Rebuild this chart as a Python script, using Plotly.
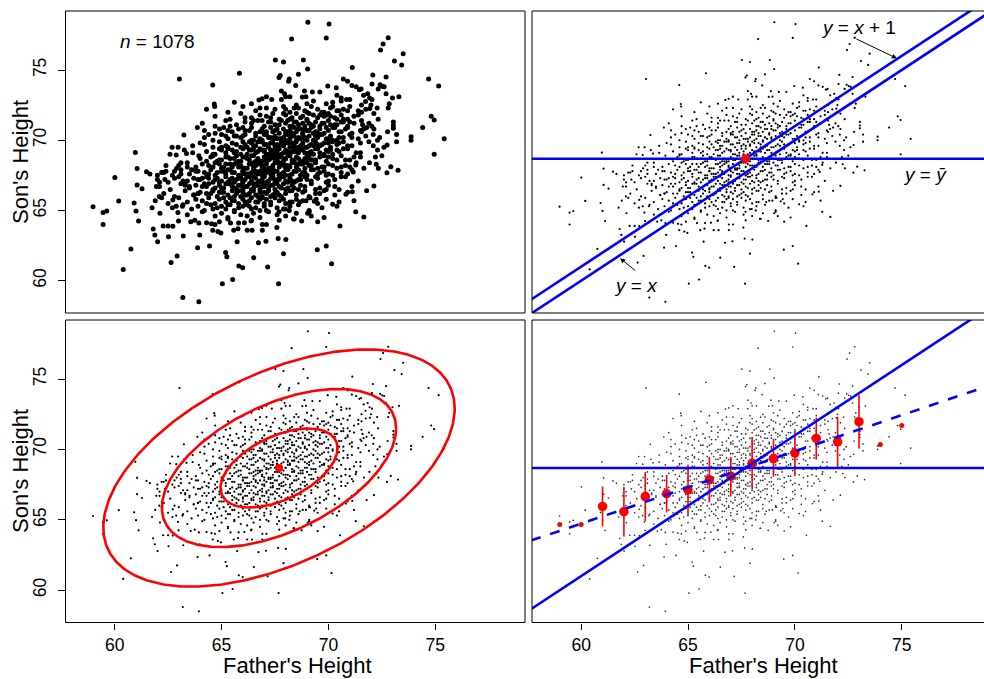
import numpy as np
import plotly.graph_objects as go

# ------------------------------------------------------------------ data
# sparse / outer points (father, son)
father_outer = [
    69.04, 70.03, 68.28, 69.90, 67.52, 67.90, 68.83, 69.03, 65.84, 71.12,
    64.59, 67.69, 67.75, 68.60, 68.17, 68.14, 67.80, 67.95, 68.47, 68.88,
    69.97, 70.37, 70.70, 70.90, 71.10, 71.30, 71.45, 64.66, 64.68, 67.10,
    67.35, 68.00, 68.20, 68.78, 68.95, 69.25, 69.60, 70.40, 70.60, 70.85,
    66.75, 66.90, 72.80, 72.56, 72.44, 73.50, 73.09, 73.43, 72.08, 72.70,
    74.69, 75.16, 72.04, 72.33, 72.42, 72.61, 72.52, 71.53, 71.65, 71.84,
    71.93, 71.74, 72.04, 71.99, 71.94, 72.28, 72.13, 72.33, 71.90, 72.03,
    71.79, 71.65, 72.13, 72.70, 73.00, 72.85, 72.80, 73.30, 73.04, 73.04,
    73.04, 73.19, 73.19, 72.77, 72.75, 73.87, 73.87, 74.41, 74.81, 74.95,
    75.42, 74.95, 71.55, 71.60, 71.55, 71.75, 71.90, 72.10, 72.30, 72.50,
    72.20, 72.60, 72.10, 72.30, 72.40, 71.55, 71.55, 71.75, 73.26, 72.92,
    72.74, 72.34, 72.24, 71.92, 71.66, 71.79, 72.13, 71.66, 63.03, 63.87,
    63.24, 60.97, 62.69, 62.97, 63.26, 63.65, 62.59, 62.88, 63.36, 63.94,
    63.65, 61.05, 60.01, 61.49, 61.65, 61.05, 61.28, 60.19, 58.99, 59.46,
    59.63, 59.46, 60.91, 61.00, 61.12, 61.75, 61.80, 61.88, 62.01, 62.12,
    60.76, 60.40, 62.27, 62.50, 62.72, 62.52, 63.21, 62.64, 62.92, 63.19,
    63.94, 63.56, 63.75, 63.94, 63.88, 62.99, 62.09, 62.20, 62.72, 62.88,
    63.17, 62.96, 61.95, 62.10, 62.00, 62.30, 62.35, 62.80, 63.00, 63.10,
    63.40, 63.50, 63.30, 63.80, 63.90, 63.70, 63.90, 65.04, 65.52, 67.67,
    65.81, 65.99, 67.16, 66.51, 65.19, 65.25, 64.44, 67.90, 70.15, 69.48,
    69.90, 65.73, 66.73, 67.08, 67.65, 68.01, 67.59, 66.91, 66.91, 66.20,
    66.43, 65.57, 65.77, 64.59, 64.83, 64.97, 63.98, 64.30, 64.53, 64.69,
    65.42, 66.07, 66.38, 68.37, 68.75, 69.03, 69.20, 70.54, 71.28, 70.20,
    70.82, 71.12, 71.16, 71.28, 68.66, 68.95, 69.14, 69.43, 69.34, 67.69,
    67.98, 68.17,
]
son_outer = [
    78.40, 78.27, 77.20, 77.28, 75.71, 75.57, 75.71, 75.07, 74.77, 75.17,
    73.93, 74.47, 74.60, 74.69, 74.36, 74.20, 73.50, 73.30, 73.90, 73.50,
    73.86, 73.74, 74.36, 74.20, 73.90, 73.80, 73.60, 72.58, 72.40, 73.10,
    72.90, 73.10, 73.10, 73.08, 73.10, 73.44, 73.44, 73.20, 73.00, 72.90,
    72.87, 72.95, 77.30, 76.85, 76.42, 76.16, 75.64, 75.36, 74.65, 74.50,
    74.36, 73.86, 74.00, 73.65, 73.95, 73.80, 73.85, 73.65, 73.20, 73.30,
    73.00, 72.75, 72.90, 72.50, 72.25, 72.30, 71.90, 71.50, 71.20, 71.00,
    70.90, 70.80, 70.80, 73.30, 73.00, 72.60, 72.30, 73.10, 71.30, 71.05,
    70.85, 70.40, 69.90, 70.60, 69.66, 70.25, 70.00, 70.90, 71.70, 71.44,
    70.10, 69.00, 71.40, 71.10, 70.60, 70.30, 69.90, 69.60, 69.30, 68.90,
    68.80, 69.50, 70.40, 70.00, 70.20, 72.50, 72.00, 72.20, 67.86, 68.12,
    67.69, 68.00, 68.29, 68.40, 68.00, 66.40, 66.75, 64.54, 74.36, 70.90,
    70.37, 69.12, 69.50, 69.50, 69.30, 69.60, 69.00, 68.95, 69.05, 68.90,
    69.10, 67.98, 67.34, 67.76, 67.60, 66.82, 66.55, 65.68, 65.27, 64.85,
    64.96, 64.00, 65.53, 64.97, 64.25, 65.20, 63.68, 63.26, 62.78, 64.80,
    62.26, 60.80, 63.90, 63.90, 63.88, 63.12, 63.19, 61.29, 61.76, 58.80,
    58.50, 64.20, 64.30, 64.10, 62.35, 64.25, 66.00, 65.90, 65.75, 65.30,
    65.30, 64.85, 66.70, 67.00, 67.50, 67.70, 67.20, 67.80, 68.20, 67.60,
    68.10, 66.70, 66.90, 67.80, 67.20, 66.10, 66.20, 59.79, 60.08, 59.79,
    61.05, 60.93, 60.98, 61.64, 62.00, 61.70, 62.47, 61.92, 61.21, 62.21,
    62.47, 62.78, 62.70, 62.80, 63.00, 62.93, 63.78, 63.60, 64.00, 63.60,
    63.60, 63.60, 63.70, 63.60, 63.50, 63.40, 63.26, 64.13, 64.05, 64.00,
    64.10, 64.13, 64.25, 64.40, 64.25, 64.80, 64.60, 63.90, 64.90, 65.44,
    66.15, 66.34, 67.74, 68.24, 65.60, 65.70, 65.90, 65.80, 65.65, 64.90,
    65.10, 65.00,
]

# dense core, in bands of son's height (estimated)
father_640 = [64.9, 65.3, 65.8, 66.4, 67.1, 67.7, 68.4, 69.5]
son_640 = [64.2, 64.4, 64.1, 64.3, 64.0, 64.3, 64.4, 64.2]

father_645 = [63.4, 64.1, 64.7, 65.0, 65.3, 65.6, 65.9, 66.2, 66.5, 66.8,
              67.2, 67.6, 68.0, 68.5, 69.1, 69.8]
son_645 = [64.7, 64.9, 64.6, 64.8, 64.5, 64.9, 64.7, 64.6, 64.8, 64.5,
           64.9, 64.7, 64.6, 64.8, 64.9, 64.5]

father_650 = [62.7, 63.2, 63.6, 63.9, 64.2, 64.5, 64.8, 65.0, 65.2, 65.4,
              65.6, 65.8, 66.0, 66.2, 66.4, 66.6, 66.8, 67.0, 67.3, 67.6,
              67.9, 68.2, 68.6, 69.1, 69.7, 70.4, 64.6, 65.3, 66.3, 67.1]
son_650 = [65.2, 65.4, 65.1, 65.3, 65.0, 65.4, 65.2, 65.3, 65.1, 65.4,
           65.0, 65.2, 65.3, 65.4, 65.1, 65.2, 65.0, 65.3, 65.4, 65.2,
           65.1, 65.3, 65.4, 65.0, 65.2, 65.3, 65.1, 65.4, 65.3, 65.0]

father_655 = [61.9, 62.5, 63.0, 63.4, 63.8, 64.1, 64.4, 64.7, 64.9, 65.2,
              65.4, 65.6, 65.8, 66.0, 66.1, 66.3, 66.4, 66.6, 66.8, 67.0,
              67.1, 67.3, 67.5, 67.7, 68.0, 68.2, 68.5, 68.8, 69.1, 69.5,
              69.9, 70.5, 71.2, 65.1, 66.7, 64.3, 67.9, 66.9, 65.5, 68.3]
son_655 = [65.7, 65.5, 65.9, 65.6, 65.8, 65.7, 65.9, 65.5, 65.8, 65.6,
           65.9, 65.7, 65.5, 65.8, 65.6, 65.7, 65.9, 65.6, 65.8, 65.5,
           65.8, 65.6, 65.9, 65.7, 65.5, 65.6, 65.8, 65.7, 65.9, 65.5,
           65.8, 65.6, 65.7, 65.9, 65.6, 65.5, 65.8, 65.9, 65.7, 65.6]

father_660 = [62.3, 62.8, 63.3, 63.7, 64.0, 64.3, 64.6, 64.8, 65.0, 65.3,
              65.5, 65.7, 65.9, 66.0, 66.2, 66.3, 66.5, 66.6, 66.8, 66.9,
              67.1, 67.2, 67.4, 67.6, 67.8, 68.0, 68.3, 68.5, 68.8, 69.1,
              69.4, 69.8, 70.3, 70.9, 64.5, 65.6, 66.4, 67.0, 67.7, 63.9,
              68.9, 65.1, 66.7, 67.5, 68.2, 66.1, 64.9, 67.3, 69.6, 65.8]
son_660 = [66.2, 66.0, 66.4, 66.1, 66.3, 66.2, 66.4, 66.0, 66.3, 66.1,
           66.4, 66.2, 66.0, 66.3, 66.1, 66.2, 66.4, 66.1, 66.3, 66.0,
           66.2, 66.4, 66.1, 66.3, 66.0, 66.2, 66.4, 66.1, 66.3, 66.0,
           66.2, 66.4, 66.1, 66.3, 66.2, 66.0, 66.4, 66.3, 66.1, 66.2,
           66.4, 66.3, 66.0, 66.2, 66.4, 66.1, 66.3, 66.0, 66.2, 66.4]

father_665 = [62.1, 62.6, 63.1, 63.5, 63.8, 64.1, 64.4, 64.6, 64.9, 65.1,
              65.3, 65.5, 65.7, 65.9, 66.0, 66.2, 66.3, 66.5, 66.6, 66.8,
              66.9, 67.1, 67.2, 67.4, 67.5, 67.7, 67.9, 68.1, 68.3, 68.6,
              68.9, 69.2, 69.6, 70.0, 70.5, 71.1, 64.2, 65.0, 65.8, 66.4,
              67.0, 67.6, 68.4, 63.3, 69.9, 66.1, 65.4, 64.7, 66.7, 68.0,
              65.6, 67.3, 69.4, 66.5, 64.3, 67.8, 68.7, 65.2, 66.0, 70.3]
son_665 = [66.7, 66.5, 66.9, 66.6, 66.8, 66.7, 66.9, 66.5, 66.8, 66.6,
           66.9, 66.7, 66.5, 66.8, 66.6, 66.7, 66.9, 66.6, 66.8, 66.5,
           66.7, 66.9, 66.6, 66.8, 66.5, 66.7, 66.9, 66.6, 66.8, 66.5,
           66.7, 66.9, 66.6, 66.8, 66.5, 66.7, 66.9, 66.6, 66.8, 66.5,
           66.7, 66.9, 66.6, 66.8, 66.5, 66.7, 66.9, 66.6, 66.8, 66.5,
           66.6, 66.8, 66.5, 66.9, 66.7, 66.6, 66.8, 66.9, 66.5, 66.7]

father_670 = [62.0, 62.5, 63.0, 63.4, 63.7, 64.0, 64.3, 64.6, 64.8, 65.0,
              65.2, 65.4, 65.6, 65.8, 66.0, 66.1, 66.3, 66.4, 66.6, 66.7,
              66.9, 67.0, 67.2, 67.3, 67.5, 67.6, 67.8, 68.0, 68.2, 68.4,
              68.6, 68.9, 69.2, 69.5, 69.9, 70.3, 70.8, 71.4, 64.1, 64.9,
              65.7, 66.2, 66.8, 67.4, 68.1, 68.7, 69.4, 63.2, 65.9, 67.1,
              70.0, 62.8, 65.3, 66.5, 67.7, 68.3, 64.4, 66.0, 67.9, 69.0,
              65.5, 66.9, 68.5, 70.6, 64.7, 67.4]
son_670 = [67.2, 67.0, 67.4, 67.1, 67.3, 67.2, 67.4, 67.0, 67.3, 67.1,
           67.4, 67.2, 67.0, 67.3, 67.1, 67.2, 67.4, 67.1, 67.3, 67.0,
           67.2, 67.4, 67.1, 67.3, 67.0, 67.2, 67.4, 67.1, 67.3, 67.0,
           67.2, 67.4, 67.1, 67.3, 67.0, 67.2, 67.4, 67.1, 67.3, 67.0,
           67.2, 67.4, 67.1, 67.3, 67.0, 67.2, 67.4, 67.1, 67.3, 67.0,
           67.1, 67.3, 67.0, 67.4, 67.2, 67.1, 67.3, 67.0, 67.4, 67.2,
           67.3, 67.0, 67.1, 67.4, 67.2, 67.4]

father_675 = [62.2, 62.7, 63.1, 63.5, 63.9, 64.2, 64.5, 64.7, 65.0, 65.2,
              65.4, 65.6, 65.8, 66.0, 66.2, 66.4, 66.5, 66.7, 66.8, 67.0,
              67.1, 67.3, 67.4, 67.6, 67.7, 67.9, 68.1, 68.3, 68.5, 68.7,
              68.9, 69.2, 69.5, 69.8, 70.2, 70.6, 71.1, 64.4, 65.1, 65.9,
              66.6, 67.2, 67.8, 68.4, 69.0, 69.6, 63.6, 66.1, 67.5, 68.0,
              70.9, 62.4, 66.9, 68.6, 65.5, 66.3, 67.0, 68.2, 69.3, 64.8,
              66.0, 67.7, 70.0, 65.3, 68.8, 67.3, 66.6, 69.9]
son_675 = [67.7, 67.5, 67.9, 67.6, 67.8, 67.7, 67.9, 67.5, 67.8, 67.6,
           67.9, 67.7, 67.5, 67.8, 67.6, 67.7, 67.9, 67.6, 67.8, 67.5,
           67.7, 67.9, 67.6, 67.8, 67.5, 67.7, 67.9, 67.6, 67.8, 67.5,
           67.7, 67.9, 67.6, 67.8, 67.5, 67.7, 67.9, 67.6, 67.8, 67.5,
           67.7, 67.9, 67.6, 67.8, 67.5, 67.7, 67.9, 67.6, 67.8, 67.5,
           67.6, 67.8, 67.5, 67.9, 67.7, 67.6, 67.8, 67.5, 67.9, 67.7,
           67.8, 67.5, 67.6, 67.9, 67.7, 67.6, 67.8, 67.5]

father_680 = [62.4, 62.9, 63.4, 63.8, 64.1, 64.4, 64.7, 65.0, 65.2, 65.5,
              65.7, 65.9, 66.1, 66.3, 66.5, 66.6, 66.8, 66.9, 67.1, 67.2,
              67.4, 67.5, 67.7, 67.8, 68.0, 68.1, 68.3, 68.5, 68.7, 68.9,
              69.1, 69.4, 69.7, 70.0, 70.4, 70.8, 71.3, 64.6, 65.4, 66.2,
              66.9, 67.6, 68.2, 68.8, 69.5, 70.2, 63.1, 65.1, 66.4, 67.3,
              67.9, 69.0, 71.0, 68.6, 66.0, 65.8, 66.7, 67.0, 68.4, 69.2,
              64.9, 67.4, 70.6, 66.5, 68.0, 69.8, 65.6, 67.7]
son_680 = [68.2, 68.0, 68.4, 68.1, 68.3, 68.2, 68.4, 68.0, 68.3, 68.1,
           68.4, 68.2, 68.0, 68.3, 68.1, 68.2, 68.4, 68.1, 68.3, 68.0,
           68.2, 68.4, 68.1, 68.3, 68.0, 68.2, 68.4, 68.1, 68.3, 68.0,
           68.2, 68.4, 68.1, 68.3, 68.0, 68.2, 68.4, 68.1, 68.3, 68.0,
           68.2, 68.4, 68.1, 68.3, 68.0, 68.2, 68.4, 68.1, 68.3, 68.0,
           68.2, 68.4, 68.1, 68.3, 68.0, 68.1, 68.3, 68.0, 68.4, 68.2,
           68.3, 68.0, 68.1, 68.4, 68.2, 68.1, 68.3, 68.4]

father_685 = [64.0, 64.3, 64.6, 64.9, 65.2, 65.4, 65.7, 65.9, 66.1, 66.3,
              66.5, 66.7, 66.8, 67.0, 67.1, 67.3, 67.4, 67.6, 67.7, 67.9,
              68.0, 68.2, 68.3, 68.5, 68.7, 68.9, 69.1, 69.3, 69.6, 69.9,
              70.2, 70.6, 71.0, 71.5, 64.8, 65.6, 66.4, 67.2, 67.8, 68.4,
              69.0, 69.7, 70.4, 65.3, 66.6, 67.5, 68.1, 69.2, 71.2, 68.8,
              66.2, 65.0, 66.0, 66.9, 67.3, 68.6, 69.4, 70.0, 65.8, 67.6,
              68.0, 70.8, 64.5, 66.7, 69.8, 67.1]
son_685 = [68.7, 68.5, 68.9, 68.6, 68.8, 68.7, 68.9, 68.5, 68.8, 68.6,
           68.9, 68.7, 68.5, 68.8, 68.6, 68.7, 68.9, 68.6, 68.8, 68.5,
           68.7, 68.9, 68.6, 68.8, 68.5, 68.7, 68.9, 68.6, 68.8, 68.5,
           68.7, 68.9, 68.6, 68.8, 68.5, 68.7, 68.9, 68.6, 68.8, 68.5,
           68.7, 68.9, 68.6, 68.8, 68.5, 68.7, 68.9, 68.6, 68.8, 68.5,
           68.7, 68.6, 68.8, 68.5, 68.9, 68.7, 68.6, 68.8, 68.5, 68.9,
           68.7, 68.6, 68.8, 68.5, 68.9, 68.7]

father_690 = [64.3, 64.6, 64.9, 65.2, 65.5, 65.7, 66.0, 66.2, 66.4, 66.6,
              66.8, 67.0, 67.1, 67.3, 67.4, 67.6, 67.7, 67.9, 68.0, 68.2,
              68.3, 68.5, 68.6, 68.8, 69.0, 69.2, 69.4, 69.6, 69.9, 70.2,
              70.5, 70.9, 71.3, 65.0, 65.9, 66.7, 67.5, 68.1, 68.7, 69.3,
              70.0, 70.7, 65.6, 66.9, 67.8, 68.4, 69.5, 71.5, 66.3, 67.2,
              68.9, 70.4, 64.7, 66.5, 68.1, 69.1, 67.0, 69.8, 65.3, 68.4,
              70.1, 67.6]
son_690 = [69.2, 69.0, 69.4, 69.1, 69.3, 69.2, 69.4, 69.0, 69.3, 69.1,
           69.4, 69.2, 69.0, 69.3, 69.1, 69.2, 69.4, 69.1, 69.3, 69.0,
           69.2, 69.4, 69.1, 69.3, 69.0, 69.2, 69.4, 69.1, 69.3, 69.0,
           69.2, 69.4, 69.1, 69.3, 69.0, 69.2, 69.4, 69.1, 69.3, 69.0,
           69.2, 69.4, 69.1, 69.3, 69.0, 69.2, 69.4, 69.1, 69.3, 69.0,
           69.1, 69.3, 69.0, 69.4, 69.2, 69.1, 69.3, 69.0, 69.4, 69.2,
           69.3, 69.0]

father_695 = [64.2, 64.6, 64.9, 65.2, 65.5, 65.7, 66.0, 66.2, 66.4, 66.6,
              66.8, 67.0, 67.2, 67.3, 67.5, 67.6, 67.8, 67.9, 68.1, 68.2,
              68.4, 68.5, 68.7, 68.8, 69.0, 69.2, 69.4, 69.6, 69.8, 70.1,
              70.4, 70.7, 71.1, 71.5, 65.3, 66.1, 66.9, 67.7, 68.3, 68.9,
              69.5, 70.2, 70.9, 64.0, 65.9, 67.1, 68.0, 66.5, 67.4, 68.6,
              69.3, 70.0, 65.0, 66.3, 67.9, 69.1, 70.5, 68.4, 66.7, 69.7]
son_695 = [69.7, 69.5, 69.9, 69.6, 69.8, 69.7, 69.9, 69.5, 69.8, 69.6,
           69.9, 69.7, 69.5, 69.8, 69.6, 69.7, 69.9, 69.6, 69.8, 69.5,
           69.7, 69.9, 69.6, 69.8, 69.5, 69.7, 69.9, 69.6, 69.8, 69.5,
           69.7, 69.9, 69.6, 69.8, 69.5, 69.7, 69.9, 69.6, 69.8, 69.5,
           69.7, 69.9, 69.6, 69.8, 69.5, 69.7, 69.9, 69.6, 69.8, 69.5,
           69.6, 69.8, 69.5, 69.9, 69.7, 69.6, 69.8, 69.5, 69.9, 69.7]

father_700 = [64.2, 64.6, 65.0, 65.3, 65.6, 65.9, 66.1, 66.4, 66.6, 66.8,
              67.0, 67.2, 67.4, 67.5, 67.7, 67.9, 68.0, 68.2, 68.3, 68.5,
              68.6, 68.8, 68.9, 69.1, 69.3, 69.5, 69.7, 69.9, 70.1, 70.4,
              70.7, 71.0, 71.4, 65.7, 66.5, 67.3, 68.1, 68.7, 69.4, 70.2,
              71.1, 64.4, 67.6, 66.0, 66.9, 67.8, 68.4, 69.0, 69.6, 70.5,
              65.2, 68.1, 70.0, 67.1, 68.9]
son_700 = [70.2, 70.0, 70.4, 70.1, 70.3, 70.2, 70.4, 70.0, 70.3, 70.1,
           70.4, 70.2, 70.0, 70.3, 70.1, 70.2, 70.4, 70.1, 70.3, 70.0,
           70.2, 70.4, 70.1, 70.3, 70.0, 70.2, 70.4, 70.1, 70.3, 70.0,
           70.2, 70.4, 70.1, 70.3, 70.0, 70.2, 70.4, 70.1, 70.3, 70.0,
           70.2, 70.4, 70.1, 70.3, 70.0, 70.1, 70.3, 70.0, 70.4, 70.2,
           70.3, 70.0, 70.1, 70.4, 70.2]

father_705 = [64.2, 64.7, 65.1, 65.5, 65.8, 66.1, 66.4, 66.6, 66.9, 67.1,
              67.3, 67.5, 67.7, 67.9, 68.0, 68.2, 68.4, 68.5, 68.7, 68.8,
              69.0, 69.2, 69.4, 69.6, 69.8, 70.0, 70.2, 70.5, 70.8, 71.1,
              71.5, 66.0, 66.8, 67.6, 68.3, 69.1, 69.9, 70.6, 64.9, 67.0,
              68.1, 68.9, 69.5, 70.3, 66.3, 67.4, 68.6, 69.3, 70.9, 65.3]
son_705 = [70.7, 70.5, 70.9, 70.6, 70.8, 70.7, 70.9, 70.5, 70.8, 70.6,
           70.9, 70.7, 70.5, 70.8, 70.6, 70.7, 70.9, 70.6, 70.8, 70.5,
           70.7, 70.9, 70.6, 70.8, 70.5, 70.7, 70.9, 70.6, 70.8, 70.5,
           70.7, 70.9, 70.6, 70.8, 70.5, 70.7, 70.9, 70.6, 70.8, 70.5,
           70.6, 70.8, 70.5, 70.9, 70.7, 70.6, 70.8, 70.5, 70.9, 70.7]

father_710 = [64.1, 64.7, 65.2, 65.7, 66.1, 66.4, 66.7, 67.0, 67.3, 67.5,
              67.8, 68.0, 68.2, 68.4, 68.6, 68.8, 69.0, 69.2, 69.4, 69.6,
              69.8, 70.0, 70.3, 70.6, 70.9, 71.2, 66.9, 67.7, 68.5, 69.3,
              70.1, 71.0, 65.4, 68.1, 69.7, 70.4, 67.2, 68.9, 66.5, 69.1,
              70.7, 68.3]
son_710 = [71.2, 71.0, 71.4, 71.1, 71.3, 71.2, 71.4, 71.0, 71.3, 71.1,
           71.4, 71.2, 71.0, 71.3, 71.1, 71.2, 71.4, 71.1, 71.3, 71.0,
           71.2, 71.4, 71.1, 71.3, 71.0, 71.2, 71.4, 71.1, 71.3, 71.0,
           71.1, 71.3, 71.0, 71.4, 71.2, 71.1, 71.3, 71.0, 71.4, 71.2,
           71.3, 71.0]

father_715 = [64.7, 65.4, 65.9, 66.4, 66.8, 67.1, 67.4, 67.7, 68.0, 68.3,
              68.5, 68.8, 69.0, 69.3, 69.5, 69.8, 70.0, 70.3, 70.6, 70.9,
              71.2, 67.9, 68.7, 69.6, 70.4, 66.1, 71.4, 68.2, 69.1, 70.1,
              67.3, 69.9, 70.7]
son_715 = [71.7, 71.5, 71.9, 71.6, 71.8, 71.7, 71.9, 71.5, 71.8, 71.6,
           71.9, 71.7, 71.5, 71.8, 71.6, 71.7, 71.9, 71.6, 71.8, 71.5,
           71.7, 71.9, 71.6, 71.8, 71.5, 71.6, 71.8, 71.5, 71.9, 71.7,
           71.6, 71.8, 71.5]

father_720 = [64.3, 65.3, 66.0, 66.6, 67.1, 67.5, 67.9, 68.2, 68.6, 68.9,
              69.2, 69.5, 69.8, 70.1, 70.4, 70.7, 71.0, 71.4, 68.4, 69.7,
              70.9, 66.8, 69.0, 70.2, 68.0, 70.5]
son_720 = [72.2, 72.0, 72.4, 72.1, 72.3, 72.2, 72.4, 72.0, 72.3, 72.1,
           72.4, 72.2, 72.0, 72.3, 72.1, 72.2, 72.4, 72.1, 72.3, 72.0,
           72.1, 72.3, 72.0, 72.4, 72.2, 72.1]

father_725 = [65.6, 66.4, 67.8, 68.5, 69.3, 69.9, 70.2, 71.0, 69.0, 70.6]
son_725 = [72.7, 72.6, 72.9, 72.5, 72.8, 72.6, 72.7, 72.9, 72.6, 72.8]

# summary statistics shown in the figure
n_sample = 1078
mean_father = 67.69
mean_son = 68.68
sd_father = 2.74
sd_son = 2.81
corr = 0.501
ellipse_levels = [1, 2, 3]

# conditional means of son's height for rounded father's height (bottom-right)
bin_father = [59, 60, 61, 62, 63, 64, 65, 66, 67, 68, 69, 70, 71, 72, 73, 74, 75]
bin_mean = [64.66, 64.66, 65.95, 65.58, 66.65, 66.85, 67.12, 67.85, 68.10,
            69.02, 69.36, 69.74, 70.78, 70.54, 71.97, 70.35, 71.71]
bin_sd = [0, 0, 1.42, 1.76, 1.75, 1.33, 1.80, 1.58, 1.37, 1.87, 1.30, 1.63,
          1.49, 1.78, 1.90, 0, 0]
bin_single = [True, True, False, False, False, False, False, False, False,
              False, False, False, False, False, False, True, True]

axis_lim = [57.7, 79.2]
tick_vals = [60, 65, 70, 75]

# ------------------------------------------------------------------ assemble
pairs = list(zip(father_outer, son_outer))
for f_b, s_b in [(father_640, son_640), (father_645, son_645), (father_650, son_650),
                 (father_655, son_655), (father_660, son_660), (father_665, son_665),
                 (father_670, son_670), (father_675, son_675), (father_680, son_680),
                 (father_685, son_685), (father_690, son_690), (father_695, son_695),
                 (father_700, son_700), (father_705, son_705), (father_710, son_710),
                 (father_715, son_715), (father_720, son_720), (father_725, son_725)]:
    pairs += list(zip(f_b, s_b))
fx = np.array([p[0] for p in pairs])
sy = np.array([p[1] for p in pairs])

# ------------------------------------------------------------------ layout geometry (pixels)
W, H = 984, 679
PX_L0, PX_L1 = 65.5, 525.0
PX_R0 = 532.0
PX_T0, PX_T1 = 11.0, 313.0
PX_B0, PX_B1 = 320.0, 622.5
xdom_l = [PX_L0 / W, PX_L1 / W]
xdom_r = [PX_R0 / W, 1.0]
ydom_t = [1 - PX_T1 / H, 1 - PX_T0 / H]
ydom_b = [1 - PX_B1 / H, 1 - PX_B0 / H]
xr_right = [axis_lim[0],
            axis_lim[0] + (W - PX_R0) / (PX_L1 - PX_L0) * (axis_lim[1] - axis_lim[0])]

FONT = "Liberation Sans, Arial, Helvetica, sans-serif"
BLUE = "#0000FF"
RED = "#FF0000"

fig = go.Figure()

# panel 1 : big dots
fig.add_trace(go.Scatter(x=fx, y=sy, mode="markers", xaxis="x", yaxis="y",
                         marker=dict(size=5, color="black", opacity=1, line=dict(width=0))))

# panel 2
fig.add_trace(go.Scatter(x=fx, y=sy, mode="markers", xaxis="x2", yaxis="y2",
                         marker=dict(size=2.2, color="black", opacity=1, line=dict(width=0))))
line_x = np.array([55.0, 82.0])
for yy in [np.array([mean_son, mean_son]), line_x, line_x + 1]:
    fig.add_trace(go.Scatter(x=line_x, y=yy, mode="lines", xaxis="x2", yaxis="y2",
                             line=dict(color=BLUE, width=2.6)))
fig.add_trace(go.Scatter(x=[mean_father], y=[mean_son], mode="markers", xaxis="x2", yaxis="y2",
                         marker=dict(size=9, color=RED, opacity=1, line=dict(width=0))))

# panel 3
fig.add_trace(go.Scatter(x=fx, y=sy, mode="markers", xaxis="x3", yaxis="y3",
                         marker=dict(size=2.2, color="black", opacity=1, line=dict(width=0))))
t = np.linspace(0, 2 * np.pi, 361)
for c in ellipse_levels:
    ex = mean_father + c * sd_father * np.cos(t)
    ey = mean_son + c * sd_son * (corr * np.cos(t) + np.sqrt(1 - corr ** 2) * np.sin(t))
    fig.add_trace(go.Scatter(x=ex, y=ey, mode="lines", xaxis="x3", yaxis="y3",
                             line=dict(color=RED, width=2.6)))
fig.add_trace(go.Scatter(x=[mean_father], y=[mean_son], mode="markers", xaxis="x3", yaxis="y3",
                         marker=dict(size=8, color=RED, opacity=1, line=dict(width=0))))

# panel 4
fig.add_trace(go.Scatter(x=fx, y=sy, mode="markers", xaxis="x4", yaxis="y4",
                         marker=dict(size=1.7, color="#333333", opacity=1, line=dict(width=0))))
fig.add_trace(go.Scatter(
    x=bin_father, y=bin_mean, mode="markers", xaxis="x4", yaxis="y4",
    marker=dict(size=[5 if s else 9.5 for s in bin_single], color=RED, opacity=1,
                line=dict(width=0)),
    error_y=dict(type="data", array=bin_sd, visible=True, color=RED, thickness=1.6, width=0)))
slope = corr * sd_son / sd_father
intercept = mean_son - slope * mean_father
fig.add_trace(go.Scatter(x=line_x, y=intercept + slope * line_x, mode="lines",
                         xaxis="x4", yaxis="y4",
                         line=dict(color=BLUE, width=2.6, dash="10px,10px")))
for yy in [np.array([mean_son, mean_son]), line_x + 1]:
    fig.add_trace(go.Scatter(x=line_x, y=yy, mode="lines", xaxis="x4", yaxis="y4",
                             line=dict(color=BLUE, width=2.6)))

# ------------------------------------------------------------------ axes
def ax(domain, rng, anchor, ticks, is_y=False):
    d = dict(domain=domain, range=rng, anchor=anchor, showgrid=False, zeroline=False,
             showline=False, fixedrange=True)
    if ticks:
        d.update(tickmode="array", tickvals=tick_vals, ticks="outside",
                 ticklen=7 if is_y else 6,
                 tickwidth=1, tickcolor="black", showticklabels=True,
                 tickfont=dict(family=FONT, size=17.5, color="black"))
        if is_y:
            d.update(tickangle=-90, ticklabelstandoff=5)
    else:
        d.update(showticklabels=False, ticks="")
    return d

fig.update_layout(
    width=W, height=H, margin=dict(l=0, r=0, t=0, b=0),
    paper_bgcolor="white", plot_bgcolor="white", showlegend=False,
    font=dict(family=FONT, color="black"),
    xaxis=ax(xdom_l, axis_lim, "y", False),
    yaxis=ax(ydom_t, axis_lim, "x", True, True),
    xaxis2=ax(xdom_r, xr_right, "y2", False),
    yaxis2=ax(ydom_t, axis_lim, "x2", False),
    xaxis3=ax(xdom_l, axis_lim, "y3", True),
    yaxis3=ax(ydom_b, axis_lim, "x3", True, True),
    xaxis4=ax(xdom_r, xr_right, "y4", True),
    yaxis4=ax(ydom_b, axis_lim, "x4", False),
)

# borders
shapes = []
for yd in (ydom_t, ydom_b):
    shapes.append(dict(type="rect", xref="paper", yref="paper", x0=xdom_l[0], x1=xdom_l[1],
                       y0=yd[0], y1=yd[1], line=dict(color="black", width=1), layer="above"))
    shapes.append(dict(type="line", xref="paper", yref="paper", x0=xdom_r[0], x1=xdom_r[0],
                       y0=yd[0], y1=yd[1], line=dict(color="black", width=1), layer="above"))
    for yv in yd:
        shapes.append(dict(type="line", xref="paper", yref="paper", x0=xdom_r[0], x1=1.0,
                           y0=yv, y1=yv, line=dict(color="black", width=1), layer="above"))
fig.update_layout(shapes=shapes)

ann = []
title_font = dict(family=FONT, size=22, color="black")
for yc in (162.0, 471.0):
    ann.append(dict(text="Son's Height", xref="paper", yref="paper", x=20 / W, y=1 - yc / H,
                    textangle=-90, showarrow=False, font=title_font,
                    xanchor="center", yanchor="middle"))
for xc in (297.0, 763.0):
    ann.append(dict(text="Father's Height", xref="paper", yref="paper", x=xc / W, y=1 - 665.5 / H,
                    showarrow=False, font=title_font, xanchor="center", yanchor="middle"))
lab_font = dict(family=FONT, size=19, color="black")
ann.append(dict(text="<i>n</i> = %d" % n_sample, x=61.99, y=77.06, xref="x", yref="y",
                showarrow=False, font=lab_font))
ann.append(dict(text="<i>y</i> = <i>x</i> + 1", x=73.0, y=78.03, xref="x2", yref="y2",
                showarrow=False, font=lab_font))
ann.append(dict(text="<i>y</i> = <i>x</i>", x=62.57, y=59.64, xref="x2", yref="y2",
                showarrow=False, font=lab_font))
ann.append(dict(text="<i>y</i> = <i>ȳ</i>", x=76.09, y=67.53, xref="x2", yref="y2",
                showarrow=False, font=lab_font))
ann.append(dict(text="", x=74.77, y=75.83, ax=72.81, ay=77.26, xref="x2", yref="y2",
                axref="x2", ayref="y2", showarrow=True, arrowhead=2, arrowsize=1,
                arrowwidth=1, arrowcolor="black"))
ann.append(dict(text="", x=61.82, y=61.6, ax=62.6, ay=60.64, xref="x2", yref="y2",
                axref="x2", ayref="y2", showarrow=True, arrowhead=2, arrowsize=1,
                arrowwidth=1, arrowcolor="black"))
fig.update_layout(annotations=ann)

fig.write_html("out.html")
